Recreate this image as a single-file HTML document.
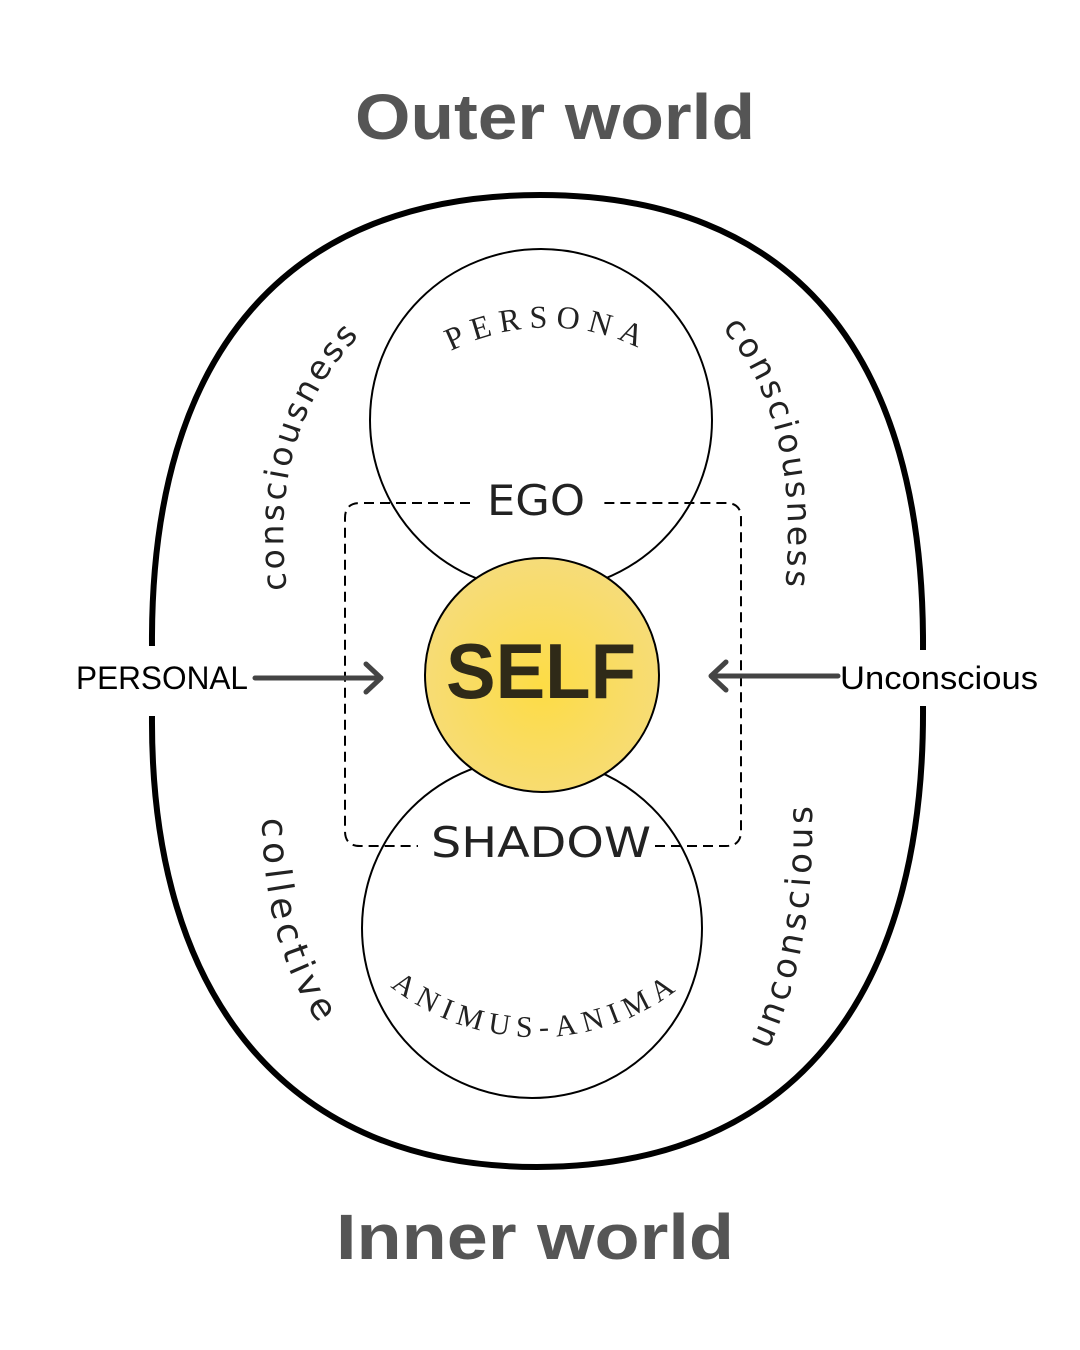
<!DOCTYPE html>
<html><head><meta charset="utf-8"><style>
html,body{margin:0;padding:0;background:#fff;}
svg{display:block;}
</style></head><body>
<svg width="1080" height="1350" viewBox="0 0 1080 1350" xmlns="http://www.w3.org/2000/svg">
<defs>
<radialGradient id="g" cx="50%" cy="55%" r="55%">
<stop offset="0" stop-color="#fddc45"/>
<stop offset="1" stop-color="#f6dc7a"/>
</radialGradient>
<path id="cl" d="M287,590 Q266,430 362,333"/>
<path id="cr" d="M722,328 Q802,420 785,592"/>
<path id="co" d="M262,818 Q264,960 330,1038"/>
<path id="un" d="M768,1050 Q815,950 812,812"/>
<path id="pe" d="M446,354 A210,210 0 0 1 650,354"/>
<path id="an" d="M378,976 A235,235 0 0 0 694,976"/>
</defs>
<text x="555" y="139" text-anchor="middle" font-family="Liberation Sans, sans-serif" font-weight="bold" font-size="64" fill="#555" textLength="400" lengthAdjust="spacingAndGlyphs">Outer world</text>
<text x="535" y="1259" text-anchor="middle" font-family="Liberation Sans, sans-serif" font-weight="bold" font-size="64" fill="#555" textLength="398" lengthAdjust="spacingAndGlyphs">Inner world</text>
<g fill="none" stroke="#000" stroke-width="6">
<path d="M152,646 C150,350 290,195 540,195 C790,195 925,350 923,650"/>
<path d="M152,716 C150,1000 290,1167 537,1167 C790,1167 925,1000 923,706"/>
</g>
<circle cx="541" cy="420" r="171" fill="#fff" stroke="#000" stroke-width="2"/>
<circle cx="532" cy="928" r="170" fill="#fff" stroke="#000" stroke-width="2"/>
<path d="M470,503 H360 Q345,503 345,518 V831 Q345,846 360,846 H418 M655,846 H726 Q741,846 741,831 V518 Q741,503 726,503 H603" fill="none" stroke="#000" stroke-width="2" stroke-dasharray="10,6"/>
<circle cx="542" cy="675" r="117" fill="url(#g)" stroke="#000" stroke-width="2"/>
<text x="541" y="698" text-anchor="middle" font-family="Liberation Sans, sans-serif" font-weight="bold" font-size="78" fill="#2f2a18" textLength="190" lengthAdjust="spacingAndGlyphs">SELF</text>
<text x="536" y="515" text-anchor="middle" font-family="DejaVu Sans, sans-serif" font-size="42" fill="#222" textLength="98" lengthAdjust="spacingAndGlyphs">EGO</text>
<text x="541" y="857" text-anchor="middle" font-family="DejaVu Sans, sans-serif" font-size="42" fill="#222" textLength="220" lengthAdjust="spacingAndGlyphs">SHADOW</text>
<text x="76" y="689" font-family="Liberation Sans, sans-serif" font-size="32" fill="#000" textLength="172" lengthAdjust="spacingAndGlyphs">PERSONAL</text>
<text x="840" y="689" font-family="Liberation Sans, sans-serif" font-size="32" fill="#000" textLength="198" lengthAdjust="spacingAndGlyphs">Unconscious</text>
<g stroke="#444" stroke-width="5" fill="none" stroke-linecap="round" stroke-linejoin="round">
<path d="M255,678 H380 M366,664 L381,678 L366,692"/>
<path d="M838,676 H712 M726,662 L711,676 L726,690"/>
</g>
<g font-family="DejaVu Sans, sans-serif" fill="#222">
<text font-size="33" letter-spacing="3"><textPath href="#cl" startOffset="0">consciousness</textPath></text>
<text font-size="33" letter-spacing="3"><textPath href="#cr" startOffset="0">consciousness</textPath></text>
<text font-size="36" letter-spacing="5"><textPath href="#co" startOffset="0">collective</textPath></text>
<text font-size="34" letter-spacing="4"><textPath href="#un" startOffset="0">unconscious</textPath></text>
</g>
<g font-family="Liberation Serif, serif" fill="#222">
<text font-size="32" letter-spacing="8"><textPath href="#pe" startOffset="50%" text-anchor="middle">PERSONA</textPath></text>
<text font-size="30" letter-spacing="7"><textPath href="#an" startOffset="50%" text-anchor="middle">ANIMUS-ANIMA</textPath></text>
</g>
</svg>
</body></html>
